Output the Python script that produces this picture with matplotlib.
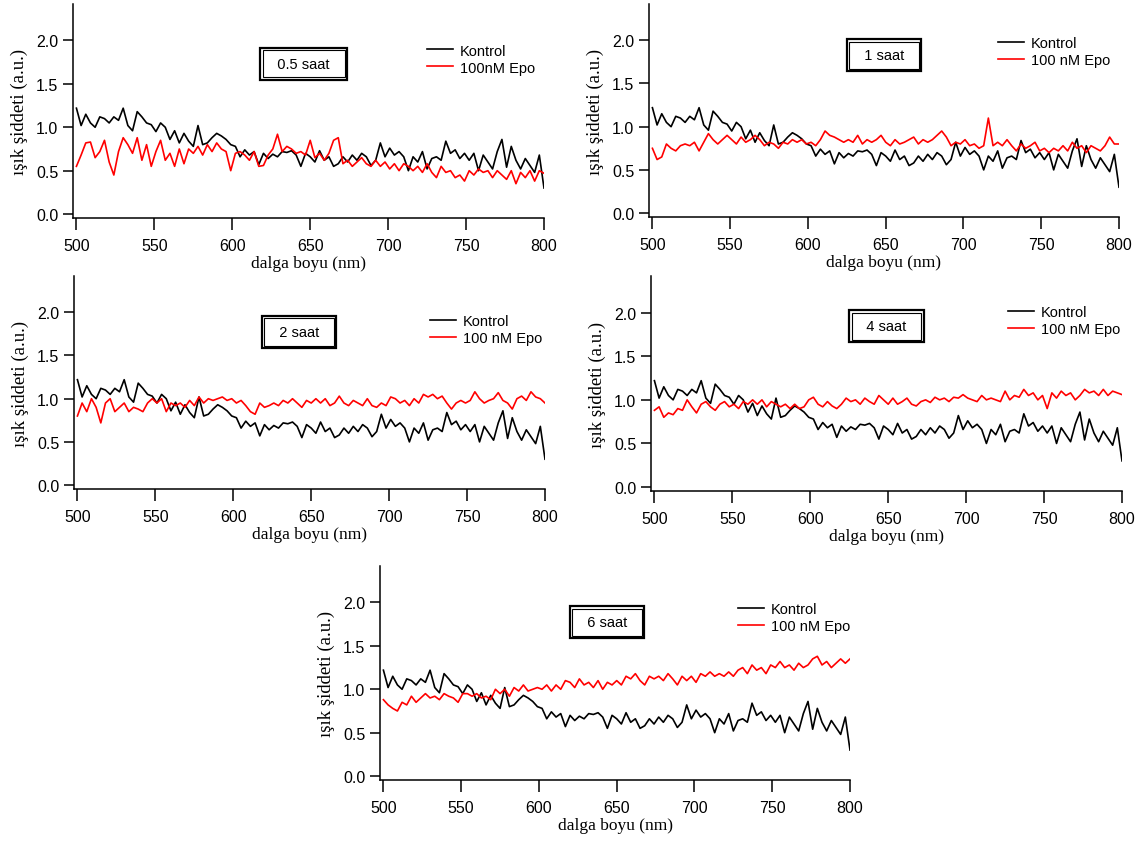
import numpy as np
import matplotlib
matplotlib.use("Agg")
import matplotlib.pyplot as plt

# dalga boyu: 500-800 nm, 3 nm aralik
dalga = np.arange(500, 801, 3)

kontrol = [
    1.22, 1.02, 1.15, 1.05, 1.00, 1.12, 1.10, 1.05, 1.12, 1.08,
    1.22, 1.02, 0.96, 1.18, 1.12, 1.05, 1.03, 0.95, 1.05, 1.00,
    0.86, 0.96, 0.82, 0.93, 0.84, 0.78, 1.02, 0.80, 0.82, 0.88,
    0.93, 0.90, 0.86, 0.80, 0.78, 0.66, 0.74, 0.68, 0.72, 0.57,
    0.70, 0.64, 0.69, 0.66, 0.72, 0.71, 0.73, 0.68, 0.55, 0.70,
    0.66, 0.60, 0.73, 0.62, 0.66, 0.55, 0.58, 0.66, 0.60, 0.68,
    0.62, 0.70, 0.66, 0.56, 0.62, 0.82, 0.66, 0.76, 0.68, 0.72,
    0.66, 0.50, 0.66, 0.60, 0.72, 0.52, 0.64, 0.66, 0.62, 0.84,
    0.70, 0.74, 0.64, 0.70, 0.62, 0.70, 0.50, 0.68, 0.60, 0.52,
    0.72, 0.86, 0.54, 0.78, 0.62, 0.52, 0.64, 0.56, 0.48, 0.68,
    0.30,
]

epo_05 = [
    0.55, 0.68, 0.82, 0.83, 0.65, 0.72, 0.85, 0.60, 0.45, 0.72,
    0.88, 0.80, 0.70, 0.88, 0.62, 0.80, 0.55, 0.72, 0.85, 0.62,
    0.70, 0.55, 0.75, 0.58, 0.75, 0.70, 0.78, 0.68, 0.80, 0.72,
    0.82, 0.75, 0.72, 0.50, 0.70, 0.72, 0.68, 0.62, 0.72, 0.55,
    0.56, 0.68, 0.75, 0.92, 0.72, 0.78, 0.75, 0.70, 0.72, 0.68,
    0.85, 0.65, 0.70, 0.62, 0.70, 0.85, 0.88, 0.58, 0.62, 0.55,
    0.60, 0.65, 0.58, 0.55, 0.62, 0.55, 0.60, 0.52, 0.58, 0.50,
    0.58, 0.55, 0.50, 0.55, 0.48, 0.58, 0.48, 0.42, 0.55, 0.48,
    0.50, 0.42, 0.45, 0.38, 0.50, 0.45, 0.52, 0.48, 0.50, 0.42,
    0.50, 0.45, 0.40, 0.50, 0.35, 0.48, 0.42, 0.50, 0.38, 0.50,
    0.47,
]

epo_1 = [
    0.75, 0.62, 0.65, 0.80, 0.75, 0.72, 0.78, 0.80, 0.78, 0.82,
    0.72, 0.82, 0.92, 0.85, 0.80, 0.85, 0.90, 0.85, 0.80, 0.88,
    0.82, 0.85, 0.90, 0.85, 0.78, 0.82, 0.80, 0.75, 0.82, 0.80,
    0.85, 0.82, 0.85, 0.80, 0.82, 0.78, 0.85, 0.95, 0.90, 0.88,
    0.85, 0.82, 0.85, 0.82, 0.90, 0.80, 0.85, 0.82, 0.85, 0.90,
    0.82, 0.78, 0.85, 0.80, 0.82, 0.85, 0.88, 0.80, 0.85, 0.82,
    0.85, 0.90, 0.95, 0.88, 0.78, 0.82, 0.80, 0.85, 0.78, 0.80,
    0.75, 0.78, 1.10, 0.78, 0.82, 0.78, 0.85, 0.78, 0.72, 0.80,
    0.75, 0.78, 0.82, 0.72, 0.75, 0.70, 0.75, 0.72, 0.78, 0.72,
    0.82, 0.75, 0.78, 0.70, 0.78, 0.75, 0.72, 0.78, 0.88, 0.80,
    0.80,
]

epo_2 = [
    0.80, 0.95, 0.85, 1.00, 0.90, 0.72, 0.95, 1.00, 0.85, 0.90,
    0.95, 0.85, 0.90, 0.88, 0.85, 0.95, 1.00, 0.95, 1.00, 0.85,
    0.95, 0.92, 0.95, 0.90, 0.98, 0.92, 1.02, 0.95, 1.00, 0.98,
    1.00, 1.02, 0.98, 1.00, 0.95, 0.98, 0.92, 0.85, 0.82, 0.95,
    0.90, 0.92, 0.95, 0.92, 0.98, 0.95, 1.00, 0.95, 0.90, 0.98,
    0.95, 1.00, 0.95, 1.00, 0.92, 0.95, 1.03, 0.95, 0.92, 0.98,
    0.95, 0.92, 1.00, 0.92, 0.90, 0.95, 0.92, 1.02, 1.00, 0.95,
    0.98, 0.92, 1.00, 0.95, 1.05, 1.02, 1.05, 1.00, 1.03, 0.95,
    0.88, 0.95, 0.98, 0.95, 0.98, 1.08, 1.00, 0.95, 0.98, 1.00,
    1.07, 0.98, 0.95, 0.88, 1.00, 1.03, 0.98, 1.08, 1.02, 1.00,
    0.95,
]

epo_4 = [
    0.88, 0.92, 0.80, 0.85, 0.83, 0.90, 0.88, 1.00, 0.92, 0.85,
    0.95, 0.98, 0.92, 0.88, 0.95, 0.98, 0.92, 0.95, 0.90, 0.98,
    0.95, 1.00, 0.95, 1.00, 0.92, 0.98, 0.95, 0.92, 0.95, 0.90,
    0.95, 0.90, 0.92, 1.00, 1.03, 0.95, 0.92, 0.98, 0.93, 0.90,
    0.95, 1.02, 0.98, 1.00, 0.95, 1.02, 0.98, 0.95, 1.05, 1.00,
    0.95, 1.02, 0.95, 0.98, 1.02, 0.95, 0.93, 0.98, 1.00, 0.97,
    1.03, 1.00, 1.02, 0.98, 1.03, 1.02, 1.06, 1.02, 1.00, 0.98,
    1.05, 1.00, 1.02, 1.00, 0.98, 1.10, 1.00, 1.05, 1.03, 1.12,
    1.05, 1.08, 1.00, 1.05, 0.90, 1.08, 1.02, 1.10, 1.05, 1.08,
    1.00, 1.05, 1.12, 1.08, 1.10, 1.05, 1.12, 1.05, 1.10, 1.08,
    1.06,
]

epo_6 = [
    0.88, 0.82, 0.78, 0.75, 0.85, 0.82, 0.92, 0.85, 0.90, 0.95,
    0.90, 0.92, 0.88, 0.95, 0.92, 0.90, 0.85, 0.95, 0.95, 0.92,
    0.95, 0.90, 0.92, 0.88, 1.00, 0.95, 1.00, 0.92, 1.02, 0.98,
    1.05, 0.98, 1.00, 1.02, 1.00, 1.05, 0.98, 1.05, 1.00, 1.10,
    1.08, 1.02, 1.12, 1.05, 1.08, 1.02, 1.10, 1.00, 1.08, 1.05,
    1.10, 1.05, 1.15, 1.12, 1.18, 1.10, 1.05, 1.15, 1.12, 1.15,
    1.10, 1.18, 1.12, 1.05, 1.15, 1.10, 1.15, 1.08, 1.18, 1.15,
    1.20, 1.15, 1.18, 1.15, 1.20, 1.15, 1.22, 1.25, 1.18, 1.28,
    1.22, 1.25, 1.18, 1.28, 1.25, 1.32, 1.25, 1.28, 1.22, 1.30,
    1.25, 1.28, 1.35, 1.38, 1.28, 1.32, 1.25, 1.30, 1.35, 1.30,
    1.35,
]

basliklar = ["0.5 saat", "1 saat", "2 saat", "4 saat", "6 saat"]
epo_etiket = ["100nM Epo", "100 nM Epo", "100 nM Epo", "100 nM Epo", "100 nM Epo"]
epo_seriler = [epo_05, epo_1, epo_2, epo_4, epo_6]

# panel yerlesimi (piksel: sol, sag, ust, alt)
W, H = 1144, 845
paneller = [(73, 544, 5, 219), (649, 1119, 5, 218), (74, 545, 277, 490),
            (651, 1122, 277, 492), (380, 850, 567, 781)]
kutu_yeri = [(0.49, 0.72), (0.50, 0.76), (0.478, 0.737), (0.50, 0.767), (0.483, 0.738)]
lejant_yeri = [(0.752, 0.815), (0.743, 0.85), (0.756, 0.82), (0.758, 0.865), (0.762, 0.83)]

sans = "Liberation Sans"
serif = "Liberation Serif"

fig = plt.figure(figsize=(W / 100, H / 100), dpi=100)

for i in range(5):
    L, R, T, B = paneller[i]
    ax = fig.add_axes([L / W, (H - B) / H, (R - L) / W, (B - T) / H])
    ax.plot(dalga, kontrol, color="black", lw=1.2, label="Kontrol")
    ax.plot(dalga, epo_seriler[i], color="red", lw=1.2, label=epo_etiket[i])
    ax.set_xlim(497.8, 800)
    ax.set_ylim(-0.045, 2.42)
    ax.set_xticks([500, 550, 600, 650, 700, 750, 800])
    ax.set_yticks([0.0, 0.5, 1.0, 1.5, 2.0])
    ax.set_yticklabels(["0.0", "0.5", "1.0", "1.5", "2.0"])
    for s in ["top", "right"]:
        ax.spines[s].set_visible(False)
    for s in ["left", "bottom"]:
        ax.spines[s].set_linewidth(1.1)
    ax.tick_params(axis="x", direction="out", length=8.5, width=1.1, pad=6)
    ax.tick_params(axis="y", direction="out", length=7, width=1.1, pad=3.5)
    for lab in ax.get_xticklabels() + ax.get_yticklabels():
        lab.set_fontfamily(sans)
        lab.set_fontsize(11.5)
    ax.set_xlabel("dalga boyu (nm)", fontfamily=serif, fontsize=12.5, labelpad=1)
    ax.set_ylabel("ışık şiddeti (a.u.)", fontfamily=serif, fontsize=13.5, labelpad=6)

    # cift cerceveli baslik kutusu
    kx, ky = kutu_yeri[i]
    ax.text(kx, ky, "  " + basliklar[i] + "  ", transform=ax.transAxes, ha="center", va="center",
            fontfamily=sans, fontsize=10.5,
            bbox=dict(boxstyle="square,pad=0.62", fc="white", ec="black", lw=1.6))
    ax.text(kx, ky, "  " + basliklar[i] + "  ", transform=ax.transAxes, ha="center", va="center",
            fontfamily=sans, fontsize=10.5, color="none",
            bbox=dict(boxstyle="square,pad=0.45", fc="none", ec="black", lw=0.8))

    lx, ly = lejant_yeri[i]
    ax.legend(loc="upper left", bbox_to_anchor=(lx, ly), frameon=False, borderpad=0,
              borderaxespad=0, handlelength=1.8, handletextpad=0.45, labelspacing=0.2,
              prop={"family": sans, "size": 10.5})

fig.savefig("out.png", dpi=100)
